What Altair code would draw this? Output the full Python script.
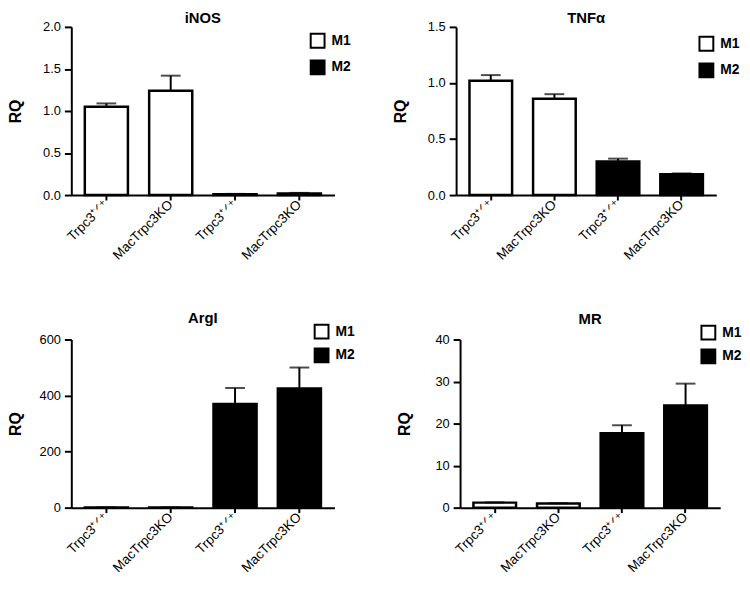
import altair as alt
import pandas as pd

FONT = "Liberation Sans"

groups = ["wt_M1", "ko_M1", "wt_M2", "ko_M2"]
tick_labels = ["Trpc3\u207a\u141f\u207a", "MacTrpc3KO", "Trpc3\u207a\u141f\u207a", "MacTrpc3KO"]
phenotype = ["M1", "M1", "M2", "M2"]
legend_names = ["M1", "M2"]
legend_fills = ["white", "black"]

inos_mean = [1.05, 1.24, 0.010, 0.020]
inos_err = [0.04, 0.18, 0.004, 0.006]
tnfa_mean = [1.02, 0.86, 0.30, 0.185]
tnfa_err = [0.05, 0.04, 0.025, 0.008]
argi_mean = [1.0, 0.8, 370, 425]
argi_err = [0.1, 0.1, 57, 75]
mr_mean = [1.2, 1.0, 17.7, 24.3]
mr_err = [0.05, 0.05, 1.9, 5.2]

inos_ticks = [0, 0.5, 1.0, 1.5, 2.0]
tnfa_ticks = [0, 0.5, 1.0, 1.5]
argi_ticks = [0, 200, 400, 600]
mr_ticks = [0, 10, 20, 30, 40]

label_map = "{" + ",".join(f"'{g}':'{l}'" for g, l in zip(groups, tick_labels)) + "}"

H = 170


def panel(title, mean, err, ticks, fmt, width, lx, ly, row_pad, title_offset):
    df = pd.DataFrame({
        "g": groups,
        "type": phenotype,
        "mean": mean,
        "top": [m + e for m, e in zip(mean, err)],
    })
    x = alt.X("g:N", sort=groups,
              scale=alt.Scale(paddingInner=0.33, paddingOuter=0.21),
              axis=alt.Axis(title=None, labelAngle=-45, labelAlign="right",
                            labelBaseline="middle", labelExpr=f"{label_map}[datum.value]",
                            labelFontSize=13.5, tickSize=5, labelPadding=2))
    yscale = alt.Scale(domain=[ticks[0], ticks[-1]], nice=False, zero=True)
    yaxis = alt.Axis(title="RQ", values=ticks, format=fmt, titleFontSize=16,
                     titleFontWeight="bold", titlePadding=14, labelFontSize=13,
                     tickSize=7, labelPadding=4, minExtent=34, maxExtent=34)
    base = alt.Chart(df)
    bars = base.mark_bar(stroke="black", strokeWidth=2.5).encode(
        x=x,
        y=alt.Y("mean:Q", scale=yscale, axis=yaxis),
        fill=alt.Fill("type:N", scale=alt.Scale(domain=legend_names, range=legend_fills),
                      legend=alt.Legend(title=None, orient="none", legendX=lx, legendY=ly,
                                        symbolType="square", symbolSize=196,
                                        symbolStrokeColor="black", symbolStrokeWidth=2,
                                        labelFont=FONT, labelFontWeight="bold",
                                        labelFontSize=14, labelColor="black",
                                        rowPadding=row_pad, labelOffset=6, padding=0)),
    )
    rule = base.mark_rule(color="black", strokeWidth=2).encode(
        x=x, y=alt.Y("mean:Q", scale=yscale), y2="top:Q")
    cap = base.mark_tick(color="black", thickness=2, size=20).encode(
        x=x, y=alt.Y("top:Q", scale=yscale))
    return alt.layer(rule, bars, cap).properties(
        width=width, height=H,
        title=alt.TitleParams(title, fontSize=15, fontWeight="bold", font=FONT,
                              color="black", offset=title_offset, frame="group"),
    )


p1 = panel("iNOS", inos_mean, inos_err, inos_ticks, ".1f", 266, 241, 6, 5, -5)
p2 = panel("TNF\u03b1", tnfa_mean, tnfa_err, tnfa_ticks, ".1f", 263, 245, 9, 5, -5)
p3 = panel("ArgI", argi_mean, argi_err, argi_ticks, "d", 266, 245, -16, 2, -2)
p4 = panel("MR", mr_mean, mr_err, mr_ticks, "d", 263, 243, -15, 2, -2)

row1 = alt.hconcat(p1, p2, spacing=42).resolve_scale(fill="independent").resolve_legend(fill="independent")
row2 = alt.hconcat(p3, p4, spacing=42).resolve_scale(fill="independent").resolve_legend(fill="independent")

chart = alt.vconcat(row1, row2, spacing=49).resolve_scale(fill="independent").resolve_legend(
    fill="independent"
).properties(padding=0).configure(background="white", padding=0).configure_view(
    stroke=None
).configure_axis(
    domainColor="black", domainWidth=2, tickColor="black", tickWidth=2,
    labelColor="black", labelFont=FONT, titleFont=FONT, titleColor="black", grid=False,
)

chart.save("out.html", embed_options={"renderer": "svg", "actions": False})
